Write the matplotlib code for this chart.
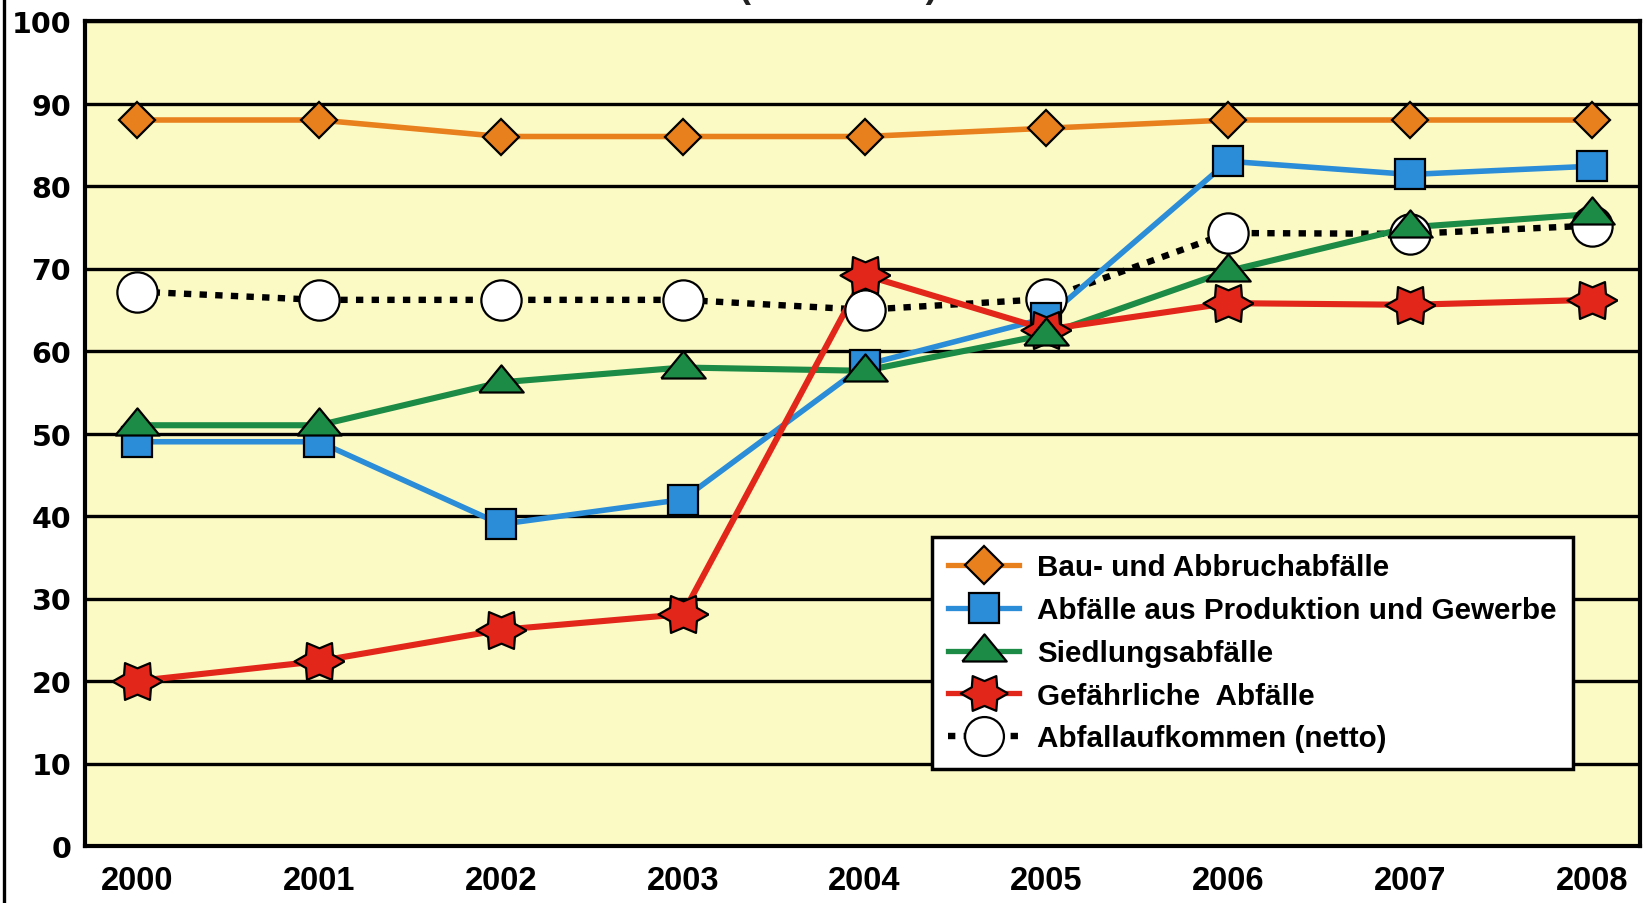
import numpy as np
import matplotlib
matplotlib.use("Agg")
import matplotlib.pyplot as plt
from matplotlib.lines import Line2D

# ---- data -------------------------------------------------------------
years = [2000, 2001, 2002, 2003, 2004, 2005, 2006, 2007, 2008]

bau_abbruch = [88, 88, 86, 86, 86, 87, 88, 88, 88]
produktion_gewerbe = [49, 49, 39, 42, 58.3, 64, 83, 81.4, 82.4]
siedlung = [51, 51, 56.2, 58, 57.6, 62, 69.7, 75, 76.6]
gefaehrlich = [20, 22.4, 26.2, 28.1, 69.2, 62.6, 65.8, 65.6, 66.2]
aufkommen_netto = [67.2, 66.2, 66.2, 66.2, 65, 66.3, 74.3, 74.2, 75.2]

series_labels = [
    "Bau- und Abbruchabfälle",
    "Abfälle aus Produktion und Gewerbe",
    "Siedlungsabfälle",
    "Gefährliche  Abfälle",
    "Abfallaufkommen (netto)",
]
y_ticks = [0, 10, 20, 30, 40, 50, 60, 70, 80, 90, 100]

# ---- custom marker shapes --------------------------------------------
# flat, wide triangle
tri_verts = [(-1.0, -0.45), (1.0, -0.45), (0.0, 0.77), (-1.0, -0.45)]
# six-pointed star with blunt spikes
ang = np.deg2rad(np.arange(12) * 30.0)
rad = np.where(np.arange(12) % 2 == 0, 1.0, 0.62)
star_verts = list(zip(rad * np.cos(ang), 0.85 * rad * np.sin(ang)))
star_verts.append(star_verts[0])

ORANGE = "#E8801E"
BLUE = "#2B8CD8"
GREEN = "#1B8B45"
RED = "#E2261A"
BG = "#FCFAC4"
DOTS = (0, (1.15, 1.3))

fig = plt.figure(figsize=(16.44, 9.04), dpi=100)
ax = fig.add_axes([85 / 1644, 1 - 847 / 904, 1555 / 1644, 825 / 904])
ax.set_facecolor(BG)
ax.set_xlim(1999.714, 2008.264)
ax.set_ylim(0, 100)

for s in ax.spines.values():
    s.set_linewidth(3.0)
    s.set_color("black")

ax.set_yticks(y_ticks)
ax.set_xticks(years)
ax.yaxis.grid(True, color="black", linewidth=2.4, zorder=0)
ax.set_axisbelow(True)
ax.tick_params(axis="both", length=0)
ax.tick_params(axis="y", pad=10)
ax.tick_params(axis="x", pad=14)
for lab in ax.get_yticklabels():
    lab.set_fontfamily("DejaVu Sans")
    lab.set_fontweight("bold")
    lab.set_fontsize(20.5)
for lab in ax.get_xticklabels():
    lab.set_fontfamily("Liberation Sans")
    lab.set_fontweight("bold")
    lab.set_fontsize(23.5)

# lines first, markers on top
line_kw = dict(solid_capstyle="round", solid_joinstyle="round")
ax.plot(years, aufkommen_netto, color="black", lw=4.6, ls=DOTS,
        dash_capstyle="butt", zorder=2)
ax.plot(years, bau_abbruch, color=ORANGE, lw=4.0, zorder=3, **line_kw)
ax.plot(years, produktion_gewerbe, color=BLUE, lw=4.0, zorder=3, **line_kw)
ax.plot(years, siedlung, color=GREEN, lw=4.4, zorder=3, **line_kw)
ax.plot(years, gefaehrlich, color=RED, lw=4.4, zorder=3, **line_kw)

mk = dict(ls="none", markeredgecolor="black", markeredgewidth=1.6)
ax.plot(years, aufkommen_netto, marker="o", ms=29, markerfacecolor="white", zorder=4, **mk)
ax.plot(years, bau_abbruch, marker="D", ms=18, markerfacecolor=ORANGE, zorder=5, **mk)
ax.plot(years, produktion_gewerbe, marker="s", ms=21, markerfacecolor=BLUE, zorder=6, **mk)
ax.plot(years, gefaehrlich, marker=star_verts, ms=36, markerfacecolor=RED, zorder=7, **mk)
ax.plot(years, siedlung, marker=tri_verts, ms=32, markerfacecolor=GREEN, zorder=8, **mk)

# legend handles
edge = dict(markeredgecolor="black", markeredgewidth=1.6)
handles = [
    Line2D([], [], color=ORANGE, lw=3.8, marker="D", ms=19, markerfacecolor=ORANGE, **edge),
    Line2D([], [], color=BLUE, lw=3.8, marker="s", ms=22, markerfacecolor=BLUE, **edge),
    Line2D([], [], color=GREEN, lw=3.8, marker=tri_verts, ms=32, markerfacecolor=GREEN, **edge),
    Line2D([], [], color=RED, lw=3.8, marker=star_verts, ms=34, markerfacecolor=RED, **edge),
    Line2D([], [], color="black", lw=4.6, ls=DOTS, marker="o", ms=28,
           markerfacecolor="white", **edge),
]
leg = ax.legend(handles, series_labels, loc="upper left",
                bbox_to_anchor=(0.5447, 0.3745), borderaxespad=0,
                prop={"family": "Liberation Sans", "weight": "bold", "size": 21.3},
                handlelength=2.4, handletextpad=0.6, labelspacing=0.5,
                borderpad=0.55, fancybox=False, framealpha=1,
                edgecolor="black", facecolor="white")
leg.get_frame().set_linewidth(2.5)
leg.set_zorder(10)

# heading, mostly above the visible area
fig.text(838 / 1644, 1 + 3 / 904, "(in Prozent)", ha="center", va="baseline",
         fontsize=26, fontweight="bold", family="Liberation Sans", color="#222222")

# left border rule
fig.add_artist(Line2D([4 / 1644, 4 / 1644], [0, 1], transform=fig.transFigure,
                      color="black", lw=2.4))

fig.savefig("out.png", dpi=100, facecolor="white")
